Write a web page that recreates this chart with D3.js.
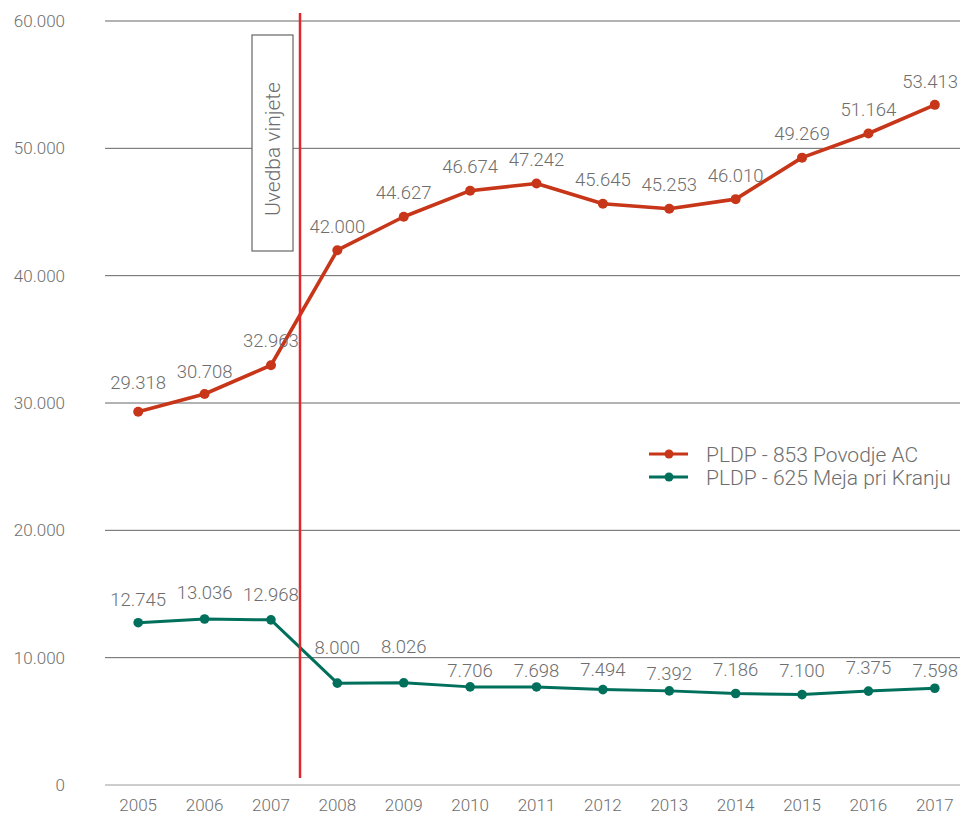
<!DOCTYPE html>
<html><head><meta charset="utf-8">
<script src="https://cdn.jsdelivr.net/npm/d3@7"></script>
<style>body{margin:0;background:#fff}svg{display:block;font-family:Roboto,"Noto Sans",sans-serif}</style>
</head><body><svg id="c" width="960" height="818"></svg>
<script>
const years = ["2005","2006","2007","2008","2009","2010","2011","2012","2013","2014","2015","2016","2017"];
const povodje = [29318,30708,32963,42000,44627,46674,47242,45645,45253,46010,49269,51164,53413];
const meja = [12745,13036,12968,8000,8026,7706,7698,7494,7392,7186,7100,7375,7598];
const yTicks = [0,10000,20000,30000,40000,50000,60000];
const seriesNames = ["PLDP - 853 Povodje AC","PLDP - 625 Meja pri Kranju"];
const colors = ["#c8361a","#00705c"];
const annotation = "Uvedba vinjete";

// label placement tweaks (vertical offset of label centre from point, px)
const labelOffsets = [
  [-29,-23,-25,-24,-24,-24,-24,-24,-24,-24,-24,-24,-24],
  [-23,-27,-26,-36,-36,-17,-17,-20,-18,-24,-24,-24,-18]
];

const svg = d3.select("#c");
const x = d3.scaleBand().domain(years).range([105,968]);
const y = d3.scaleLinear().domain([0,60000]).range([785,21]);
const fmt = v => d3.format(",")(v).replace(/,/g,".");
const gray = "#6e6e6e";
const cx = d => x(d)+x.bandwidth()/2;

// grid
svg.append("g").selectAll("line").data(yTicks).join("line")
  .attr("x1",105).attr("x2",960).attr("y1",d=>y(d)).attr("y2",d=>y(d))
  .attr("stroke",d=>d===0?"#9a9a9a":"#666").attr("stroke-width",1);
svg.append("g").selectAll("text").data(yTicks).join("text")
  .attr("x",65).attr("y",d=>y(d)).attr("dy","0.36em").attr("text-anchor","end")
  .attr("fill",gray).attr("font-size",17).attr("font-weight",300).text(d=>d===0?"0":fmt(d));
svg.append("g").selectAll("text").data(years).join("text")
  .attr("x",cx).attr("y",811).attr("text-anchor","middle")
  .attr("fill",gray).attr("font-size",17).attr("font-weight",300).text(d=>d);

// annotation box
svg.append("rect").attr("x",252).attr("y",35).attr("width",41).attr("height",216)
  .attr("fill","#fff").attr("stroke","#666").attr("stroke-width",1.2);
svg.append("text").attr("transform","translate(280,149) rotate(-90)").attr("text-anchor","middle")
  .attr("fill",gray).attr("font-size",21).attr("font-weight",300).text(annotation);

const line = d3.line().x((d,i)=>cx(years[i])).y(d=>y(d));
[povodje,meja].forEach((s,k)=>{
  svg.append("path").datum(s).attr("d",line).attr("fill","none").attr("stroke",colors[k])
    .attr("stroke-width",k===0?3.6:3).attr("stroke-linejoin","round");
  svg.append("g").selectAll("circle").data(s).join("circle")
    .attr("cx",(d,i)=>cx(years[i])).attr("cy",d=>y(d)).attr("r",k===0?5:4.8).attr("fill",colors[k]);
});

// vertical line
svg.append("line").attr("x1",300).attr("x2",300).attr("y1",13).attr("y2",778)
  .attr("stroke","#e0282a").attr("stroke-width",2.5);

// labels
const last = years.length-1;
[povodje,meja].forEach((s,k)=>{
  svg.append("g").selectAll("text").data(s).join("text")
    .attr("x",(d,i)=>i===last?958:cx(years[i])).attr("y",(d,i)=>y(d)+labelOffsets[k][i])
    .attr("dy","0.36em")
    .attr("text-anchor",(d,i)=>i===last?"end":"middle").attr("fill",gray).attr("font-size",18.5).attr("font-weight",300)
    .text(d=>fmt(d));
});

// legend
seriesNames.forEach((n,k)=>{
  const ly = 454 + k*23;
  svg.append("line").attr("x1",649).attr("x2",688).attr("y1",ly).attr("y2",ly).attr("stroke",colors[k]).attr("stroke-width",3);
  svg.append("circle").attr("cx",669).attr("cy",ly).attr("r",4.5).attr("fill",colors[k]);
  svg.append("text").attr("x",706).attr("y",ly).attr("dy","0.36em").attr("fill",gray)
    .attr("font-size",21).attr("font-weight",300).text(n);
});
</script></body></html>
